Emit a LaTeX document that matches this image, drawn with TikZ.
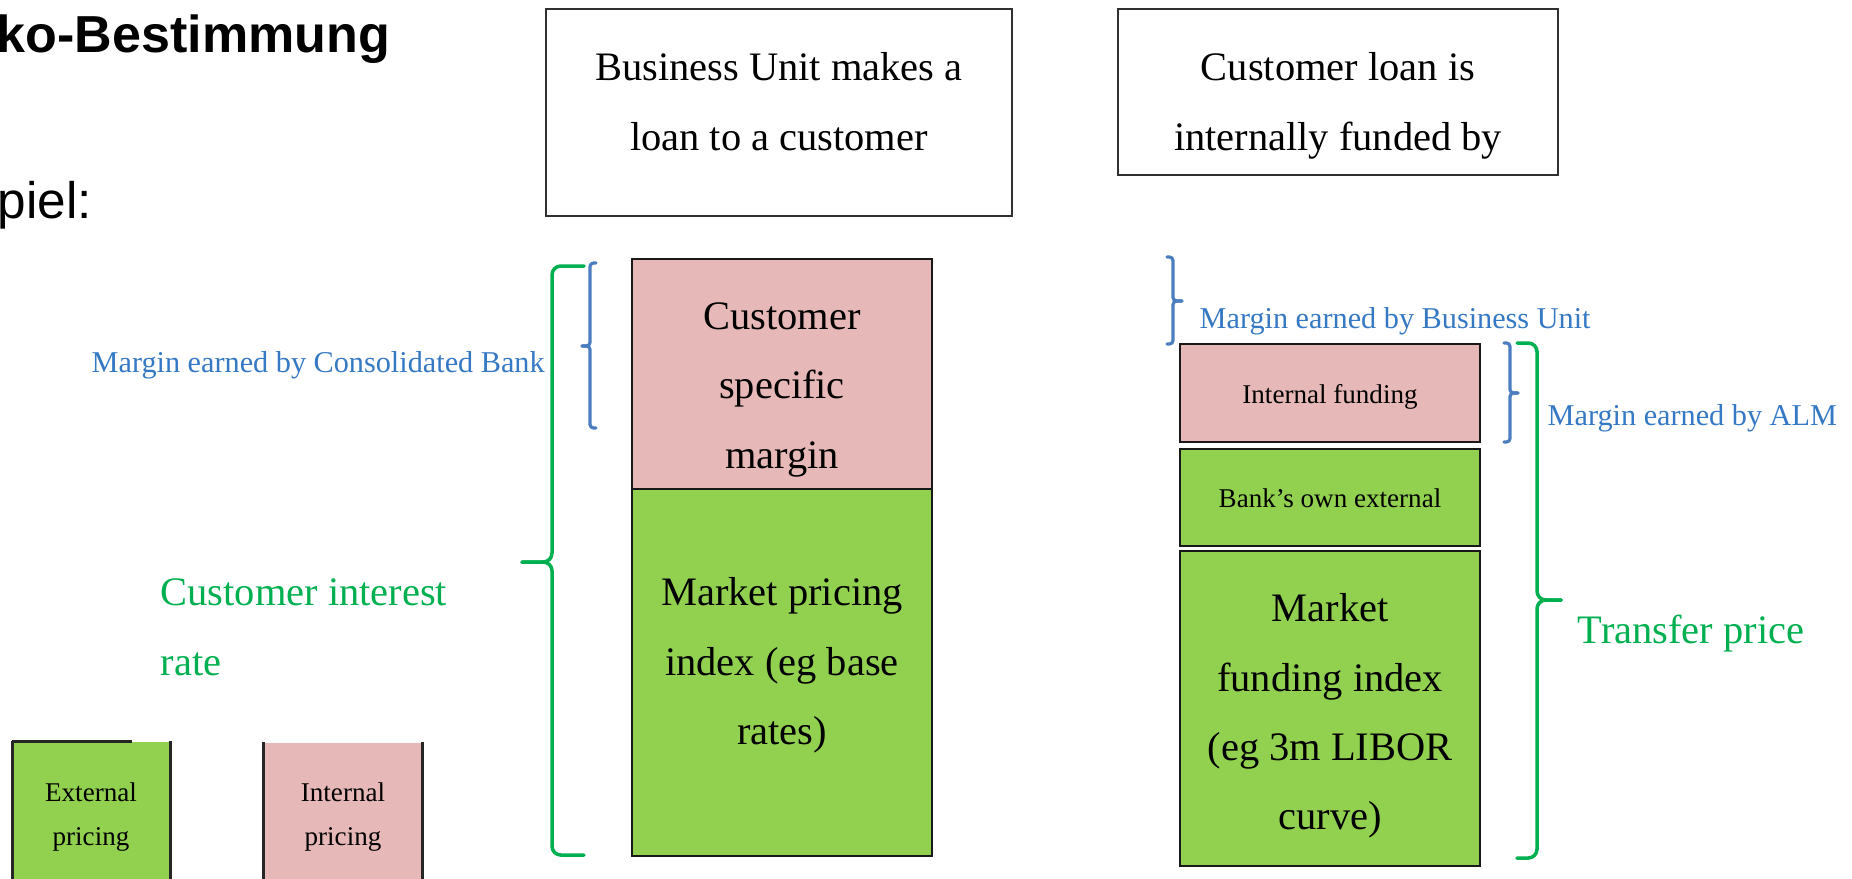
\documentclass[tikz,border=0pt]{standalone}
\usepackage{fontspec}
\setmainfont{Liberation Serif}
\setsansfont{Liberation Sans}
\usepackage{tikz}
\usetikzlibrary{positioning, fit}
\definecolor{BoxPink}{HTML}{E6B8B7}
\definecolor{BoxGreen}{HTML}{92D050}
\definecolor{BoxLine}{HTML}{303030}
\definecolor{NoteBlue}{HTML}{3579C4}
\definecolor{BraceBlue}{HTML}{4A7EBF}
\definecolor{NoteGreen}{HTML}{00B050}

\tikzset{
  topbox/.style={draw=BoxLine, line width=0.8pt, inner sep=0pt},
  pinkbox/.style={draw=black!90, fill=BoxPink, line width=0.8pt, inner sep=0pt},
  greenbox/.style={draw=black!90, fill=BoxGreen, line width=0.8pt, inner sep=0pt},
  sideline/.style={draw=black!85, line width=0.8pt},
  bigtext/.style={font=\fontsize{11.5}{19.7}\selectfont, align=center, inner sep=0pt, anchor=north},
  smalltext/.style={font=\fontsize{7.7}{12.5}\selectfont, align=center, inner sep=0pt, anchor=north},
  bluenote/.style={text=NoteBlue, font=\fontsize{8.6}{10}\selectfont, inner sep=0pt, anchor=base west},
  greennote/.style={text=NoteGreen, font=\fontsize{11.5}{19.8}\selectfont, inner sep=0pt, align=left},
  bluebrace/.style={draw=BraceBlue, line width=0.9pt, rounded corners=1pt, line cap=round},
  greenbrace/.style={draw=NoteGreen, line width=1pt, rounded corners=2.5pt, line cap=round},
}

\begin{document}
\begin{tikzpicture}[x=0.01cm, y=-0.01cm]
  \useasboundingbox (0,0) rectangle (1852,878);
  \clip (0,0) rectangle (1852,878);

  % slide heading (cut off on the left)
  \node[font=\sffamily\bfseries\fontsize{14.8}{17}\selectfont, inner sep=0pt, anchor=base west] (heading) at (-4,52) {ko-Bestimmung};
  \node[font=\sffamily\fontsize{14.6}{17}\selectfont, inner sep=0pt, anchor=base west] (example) at (-3,218) {piel:};

  % top boxes
  \node[topbox, fit={(546,9) (1012,216)}] (loanbox) {};
  \node[bigtext] (loantext) at (779,52) {Business Unit makes a\\loan to a customer};
  \node[topbox, fit={(1118,9) (1558,175)}] (fundedbox) {};
  \node[bigtext] (fundedtext) at (1338,52) {Customer loan is\\internally funded by};

  % customer rate stack
  \node[pinkbox, fit={(632,259) (932,489)}] (custbox) {};
  \node[greenbox, fit={(632,489) (932,856)}] (indexbox) {};
  \node[bigtext] (custtext) at (782,302) {Customer\\specific\\margin};
  \node[bigtext] (indextext) at (782,577) {Market pricing\\index (eg base\\rates)};

  % transfer price stack
  \node[pinkbox, fit={(1180,344) (1480,442)}] (intbox) {};
  \node[greenbox, fit={(1180,449) (1480,546)}] (ownbox) {};
  \node[greenbox, fit={(1180,551) (1480,866)}] (liborbox) {};
  \node[smalltext] (inttext) at (1330,384) {Internal funding};
  \node[smalltext] (owntext) at (1330,488) {Bank’s own external};
  \node[bigtext] (libortext) at (1330,593) {Market\\funding index\\(eg 3m LIBOR\\curve)};

  % legend boxes
  \node[fill=BoxGreen, inner sep=0pt, fit={(13,742) (170,900)}] (extbox) {};
  \draw[sideline] (extbox.north west) -- (extbox.south west);
  \draw[sideline] (extbox.north east) -- (extbox.south east);
  \draw[sideline] (extbox.north west) -- ++(120,0);
  \node[fill=BoxPink, inner sep=0pt, fit={(264,743) (422,900)}] (legintbox) {};
  \draw[sideline] (legintbox.north west) -- (legintbox.south west);
  \draw[sideline] (legintbox.north east) -- (legintbox.south east);
  \node[smalltext] (exttext) at (91,782) {External\\pricing};
  \node[smalltext] (legtext) at (343,782) {Internal\\pricing};

  % braces
  \draw[greenbrace] (584,266) -- (552,266) -- (552,562) -- (522,562);
  \draw[greenbrace] (584,855) -- (552,855) -- (552,562) -- (522,562);
  \draw[bluebrace] (596,263) -- (590,263) -- (590,346) -- (582,346);
  \draw[bluebrace] (596,428) -- (590,428) -- (590,346) -- (582,346);
  \draw[bluebrace] (1167,257) -- (1173,257) -- (1173,301) -- (1182,301);
  \draw[bluebrace] (1167,344) -- (1173,344) -- (1173,301) -- (1182,301);
  \draw[bluebrace] (1504,343) -- (1510,343) -- (1510,393) -- (1518,393);
  \draw[bluebrace] (1504,442) -- (1510,442) -- (1510,393) -- (1518,393);
  \draw[greenbrace] (1517,343) -- (1537,343) -- (1537,600) -- (1561,600);
  \draw[greenbrace] (1517,858) -- (1537,858) -- (1537,600) -- (1561,600);

  % brace labels
  \node[bluenote] (consmargin) at (91,372) {Margin earned by Consolidated Bank};
  \node[bluenote] (bumargin) at (1199,328) {Margin earned by Business Unit};
  \node[bluenote] (almmargin) at (1547,425) {Margin earned by ALM};
  \node[greennote, anchor=north west] (custrate) at (160,578) {Customer interest\\rate};
  \node[greennote, anchor=base west] (transfer) at (1577,643) {Transfer price};
\end{tikzpicture}
\end{document}
